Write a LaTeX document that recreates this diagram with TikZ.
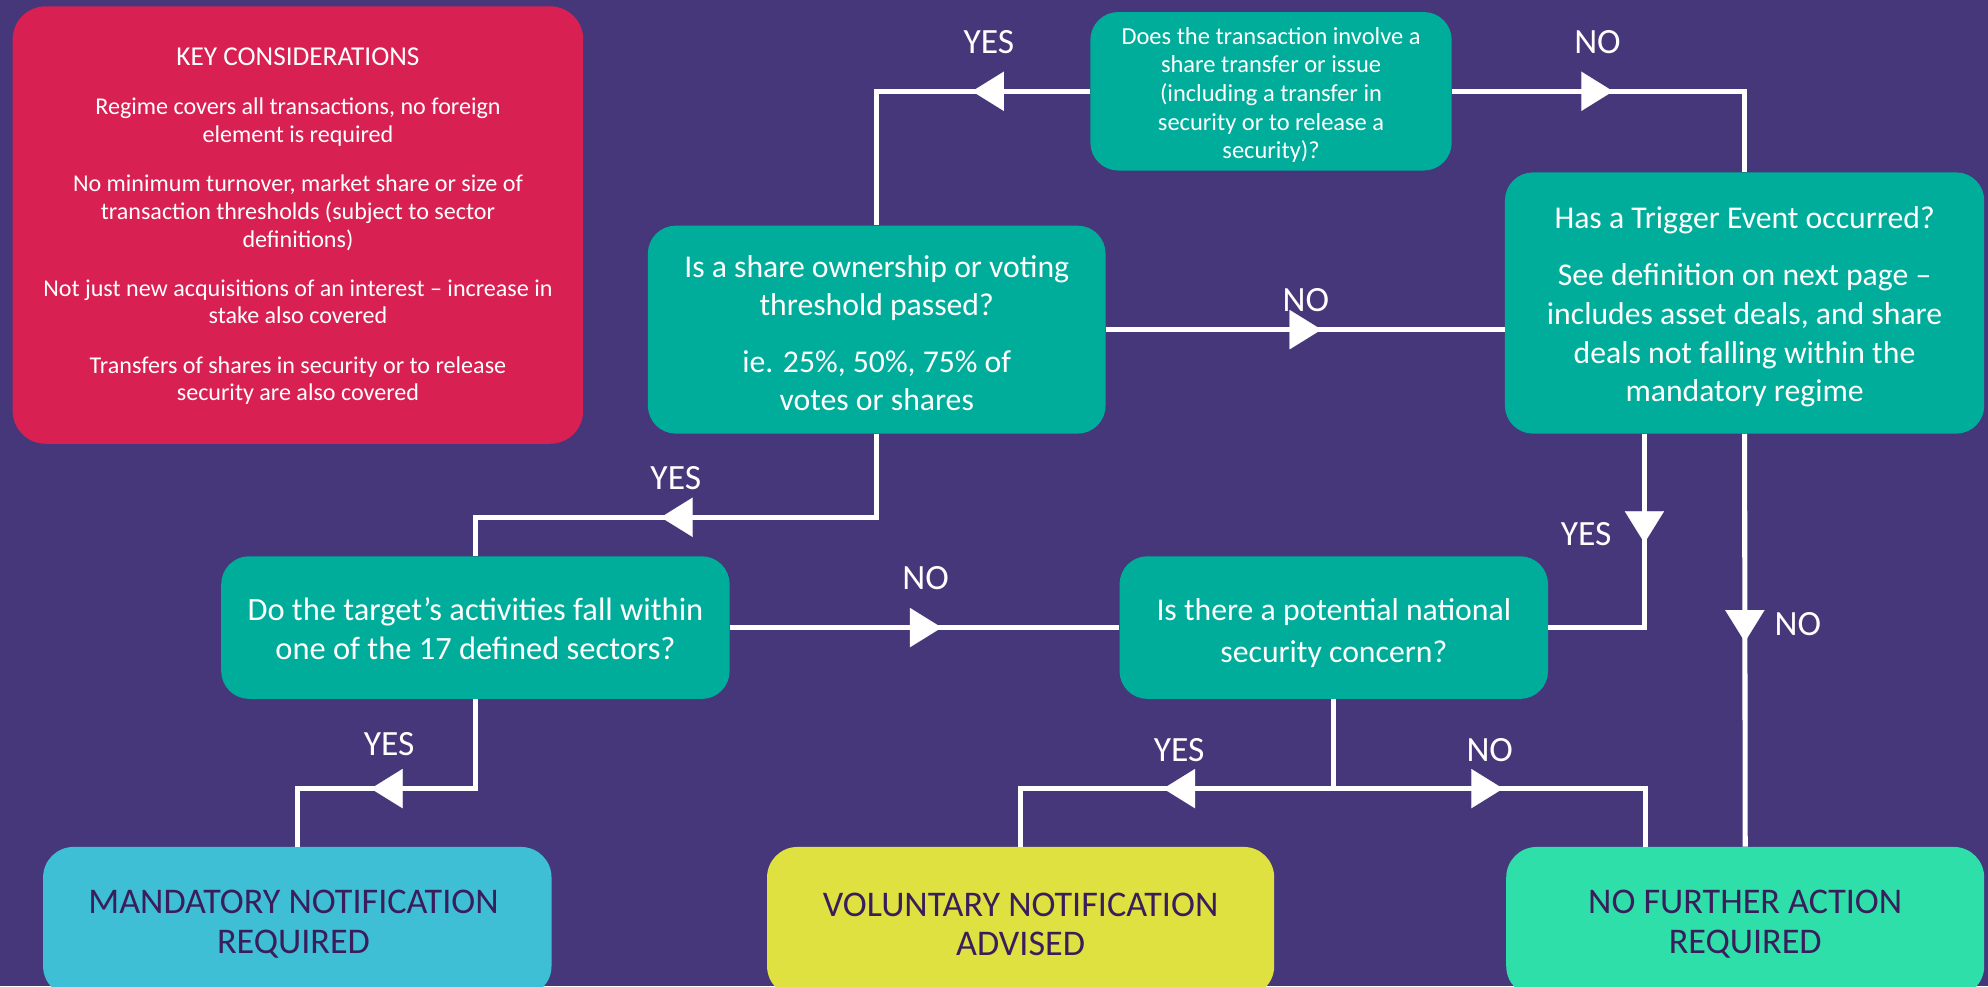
\documentclass[tikz,border=0pt]{standalone}
\usepackage{fontspec}
\setmainfont{Carlito}
\usetikzlibrary{arrows.meta,decorations.markings,calc}
\definecolor{bgpurple}{RGB}{70,54,122}
\definecolor{keyred}{RGB}{217,32,82}
\definecolor{qteal}{RGB}{0,173,155}
\definecolor{lblue}{RGB}{62,191,214}
\definecolor{lyellow}{RGB}{222,225,63}
\definecolor{mint}{RGB}{46,223,170}
\definecolor{darktext}{RGB}{58,30,92}
\tikzset{
  qbox/.style={fill=qteal, rounded corners=22pt, inner sep=0pt},
  qtext/.style={text=white, align=center, inner sep=0pt},
  endbox/.style={rounded corners=24pt, inner sep=0pt, minimum height=118pt},
  endtext/.style={align=center, inner sep=0pt, text=darktext, font=\fontsize{28.5}{31}\selectfont},
  conn/.style={draw=white, line width=4pt},
  arr/.style={postaction={decorate}, decoration={markings,
    mark=at position #1 with {\arrow{Triangle[length=25pt,width=31pt,line width=0.1pt,color=white,fill=white]}}}},
  lab/.style={text=white, font=\fontsize{28}{30}\selectfont, inner sep=0pt}
}
\begin{document}
\begin{tikzpicture}[x=1pt,y=-1pt]
\useasboundingbox (0,0) rectangle (1568,778);
\fill[bgpurple] (0,0) rectangle (1568,778);

% key considerations
\node[fill=keyred, rounded corners=26pt, inner sep=0pt,
      minimum width=450pt, minimum height=345pt] (key) at (235,177.5) {};
\node[qtext, font=\fontsize{19}{21.8}\selectfont] (keytext) at ([yshift=-1pt]key.center)
  {{\fontsize{21.5}{21.8}\selectfont KEY CONSIDERATIONS}\\[17pt]
  Regime covers all transactions, no foreign\\ element is required\\[17pt]
  No minimum turnover, market share or size of\\ transaction thresholds (subject to sector\\ definitions)\\[17pt]
  Not just new acquisitions of an interest -- increase in\\ stake also covered\\[17pt]
  Transfers of shares in security or to release\\ security are also covered};

% question boxes
\node[qbox, minimum width=285pt, minimum height=125pt] (top) at (1002.5,72) {};
\node[qtext, font=\fontsize{19.3}{22.6}\selectfont] (toptext) at ([yshift=-3pt]top.center)
  {Does the transaction involve a\\ share transfer or issue\\ (including a transfer in\\ security or to release a\\ security)?};
\node[qbox, minimum width=361pt, minimum height=164pt] (share) at (691.5,260) {};
\node[qtext, font=\fontsize{25}{30}\selectfont] (sharetext) at ([yshift=-3pt]share.center)
  {Is a share ownership or voting\\ threshold passed?\\[15pt] ie. 25\%, 50\%, 75\% of\\ votes or shares};
\node[qbox, minimum width=378pt, minimum height=206pt] (trig) at (1376,239) {};
\node[qtext, font=\fontsize{25}{30.5}\selectfont] (trigtext) at ([yshift=-3pt]trig.center)
  {Has a Trigger Event occurred?\\[15pt] See definition on next page --\\ includes asset deals, and share\\ deals not falling within the\\ mandatory regime};
\node[qbox, minimum width=401pt, minimum height=112.5pt] (sec) at (375,495) {};
\node[qtext, font=\fontsize{25.6}{31}\selectfont] (sectext) at ([yshift=-1pt]sec.center)
  {Do the target’s activities fall within\\ one of the 17 defined sectors?};
\node[qbox, minimum width=338pt, minimum height=112.5pt] (ns) at (1052,495) {};
\node[qtext, font=\fontsize{25}{33}\selectfont] (nstext) at ([yshift=-4pt]ns.center)
  {Is there a potential national\\ security concern?};

% outcome boxes
\node[endbox, fill=lblue, minimum width=401pt] (man) at (234.5,727) {};
\node[endtext] (mantext) at ([yshift=-2pt,xshift=-3pt]man.center) {MANDATORY NOTIFICATION\\ REQUIRED};
\node[endbox, fill=lyellow, minimum width=400pt] (vol) at (805,727) {};
\node[endtext] (voltext) at ([yshift=-2pt]vol.center) {VOLUNTARY NOTIFICATION\\ ADVISED};
\node[endbox, fill=mint, minimum width=377pt] (nfa) at (1376.5,727) {};
\node[endtext] (nfatext) at ([yshift=-2pt]nfa.center) {NO FURTHER ACTION\\ REQUIRED};

% junction coordinates
\coordinate (k) at (692,408);
\coordinate (j) at (1052,622);

% connectors
\draw[conn, arr=93pt] (top.west) -| (share.north);
\draw[conn, arr=127pt] (top.east) -| (trig.north);
\draw[conn, arr=170pt] (share.east) -- (share.east -| trig.west);
\draw[conn, arr=236pt] (share.south) -- (share.south |- k) -| (sec.north);
\draw[conn, arr=167pt] (sec.east) -- (ns.west);
\draw[conn, arr=86pt] ([xshift=-79pt]trig.south) |- (ns.east);
\draw[conn, arr=164pt] (trig.south) -- (nfa.north);
\draw[conn, arr=153pt] (sec.south) -- (sec.south |- j) -| (man.north);
\draw[conn, arr=205pt] (ns.south) -- (j) -| (vol.north);
\draw[conn, arr=204pt] (ns.south) -- (j) -| ([xshift=-79pt]nfa.north);

% labels
\node[lab] (l1) at (780,33) {YES};
\node[lab] (l2) at (1260,33) {NO};
\node[lab] (l3) at (1030,237) {NO};
\node[lab] (l4) at (533,377) {YES};
\node[lab] (l5) at (730,456) {NO};
\node[lab] (l6) at (1251,421) {YES};
\node[lab] (l7) at (1418,492) {NO};
\node[lab] (l8) at (307,587) {YES};
\node[lab] (l9) at (930,592) {YES};
\node[lab] (l10) at (1175,592) {NO};
\end{tikzpicture}
\end{document}
